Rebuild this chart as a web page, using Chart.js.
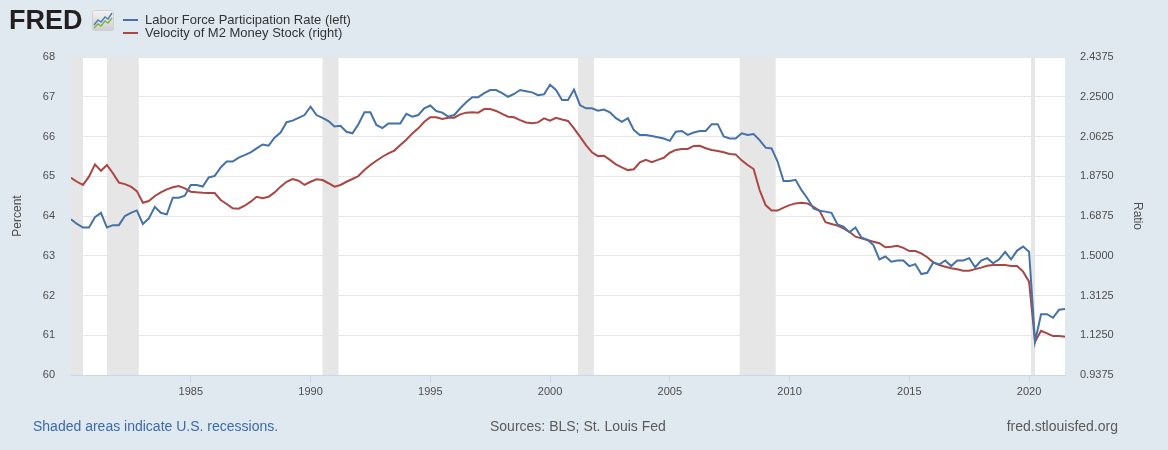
<!DOCTYPE html>
<html lang="en">
<head>
<meta charset="UTF-8">
<title>Labor Force Participation Rate and Velocity of M2</title>
<script src="https://cdn.jsdelivr.net/npm/chart.js"></script>
<style>
  body { margin: 0; background: #e1e9f0; font-family: Arial, "Liberation Sans", sans-serif; }
  .wrap { position: relative; width: 1168px; height: 450px; overflow: hidden; }
  canvas { position: absolute; left: 0; top: 0; }
  .logo { position: absolute; left: 9px; top: 7px; font-size: 27px; line-height: 27px; font-weight: bold; color: #231f20; }
  .logo-icon { position: absolute; left: 92px; top: 10px; }
  .legend { position: absolute; left: 123px; font-size: 13px; line-height: 13px; color: #333; white-space: nowrap; }
  .legend .swatch { position: absolute; left: 0; width: 15px; height: 2px; }
  .legend span.txt { position: absolute; left: 22px; top: 0; }
  .foot { position: absolute; top: 419px; font-size: 14px; line-height: 14px; color: #5a5a5a; white-space: nowrap; }
</style>
</head>
<body>
<div class="wrap">
  <canvas id="chart" width="1168" height="450"></canvas>

  <div class="logo">FRED</div>
  <svg class="logo-icon" width="22" height="21" viewBox="0 0 22 21">
    <defs>
      <linearGradient id="g" x1="0" y1="0" x2="0" y2="1">
        <stop offset="0" stop-color="#f2f2f2"/>
        <stop offset="1" stop-color="#cfcfcf"/>
      </linearGradient>
    </defs>
    <rect x="0.5" y="0.5" width="21" height="20" rx="2" fill="url(#g)" stroke="#d0d0d0"/>
    <polyline points="2,15 6,10 9,12 13,7 16,9 20,3" fill="none" stroke="#4a7fb5" stroke-width="1.4"/>
    <polyline points="2,18 6,14 9,16 13,11 16,13 20,8" fill="none" stroke="#7cb24b" stroke-width="1.4"/>
  </svg>

  <div class="legend" style="top:13px;">
    <div class="swatch" style="top:6px; background:#4572a7;"></div>
    <span class="txt">Labor Force Participation Rate (left)</span>
  </div>
  <div class="legend" style="top:26px;">
    <div class="swatch" style="top:6px; background:#aa4643;"></div>
    <span class="txt">Velocity of M2 Money Stock (right)</span>
  </div>

  <div class="foot" style="left:33px; color:#3a6aad;">Shaded areas indicate U.S. recessions.</div>
  <div class="foot" style="left:490px;">Sources: BLS; St. Louis Fed</div>
  <div class="foot" style="right:50px;">fred.stlouisfed.org</div>
</div>

<script>
    // quarterly observations, 1980 Q1 - 2021 Q3
    const startYear = 1980;

    const lfpr = [
        63.92, 63.80, 63.71, 63.71,  63.97, 64.08, 63.71, 63.77,  63.77, 64.00, 64.08, 64.14,
        63.80, 63.94, 64.23, 64.08,  64.04, 64.46, 64.46, 64.51,  64.78, 64.78, 64.74, 64.97,
        65.01, 65.22, 65.37, 65.37,  65.47, 65.53, 65.60, 65.70,  65.80, 65.77, 65.97, 66.10,
        66.36, 66.40, 66.47, 66.54,  66.75, 66.54, 66.47, 66.39,  66.25, 66.27, 66.12, 66.08,
        66.31, 66.61, 66.61, 66.29,  66.21, 66.33, 66.33, 66.33,  66.57, 66.50, 66.54, 66.71,
        66.78, 66.64, 66.60, 66.50,  66.54, 66.71, 66.86, 66.99,  66.99, 67.09, 67.17, 67.17,
        67.09, 67.00, 67.07, 67.17,  67.14, 67.11, 67.04, 67.06,  67.30, 67.17, 66.92, 66.92,
        67.18, 66.79, 66.71, 66.71,  66.65, 66.68, 66.61, 66.46,  66.37, 66.46, 66.16, 66.04,
        66.04, 66.01, 65.98, 65.95,  65.89, 66.12, 66.14, 66.04,  66.10, 66.14, 66.14, 66.31,
        66.31, 66.00, 65.95, 65.95,  66.08, 66.04, 66.06, 65.91,  65.72, 65.70, 65.37, 64.88,
        64.88, 64.91, 64.65, 64.44,  64.19, 64.13, 64.11, 64.08,  63.79, 63.73, 63.59, 63.71,
        63.46, 63.40, 63.27, 62.91,  62.98, 62.85, 62.88, 62.88,  62.74, 62.79, 62.54, 62.57,
        62.83, 62.78, 62.88, 62.74,  62.88, 62.88, 62.94, 62.71,  62.88, 62.94, 62.81, 62.91,
        63.10, 62.91, 63.13, 63.23,  63.10, 60.84, 61.53, 61.53,  61.44, 61.64, 61.66
    ];

    const velocity = [
        1.868, 1.849, 1.834, 1.873,  1.931, 1.901, 1.928, 1.889,  1.845, 1.838, 1.826, 1.805,
        1.750, 1.758, 1.782, 1.799,  1.813, 1.823, 1.829, 1.818,  1.802, 1.799, 1.797, 1.796,
        1.796, 1.763, 1.744, 1.724,  1.722, 1.736, 1.755, 1.778,  1.771, 1.778, 1.799, 1.826,
        1.849, 1.862, 1.854, 1.834,  1.849, 1.861, 1.857, 1.842,  1.826, 1.834, 1.849, 1.862,
        1.876, 1.904, 1.928, 1.948,  1.967, 1.983, 1.996, 2.022,  2.047, 2.077, 2.101, 2.132,
        2.153, 2.153, 2.145, 2.151,  2.151, 2.167, 2.175, 2.177,  2.175, 2.192, 2.192, 2.183,
        2.169, 2.156, 2.153, 2.140,  2.129, 2.125, 2.129, 2.148,  2.137, 2.151, 2.143, 2.136,
        2.101, 2.062, 2.022, 1.988,  1.970, 1.972, 1.952, 1.931,  1.917, 1.904, 1.908, 1.941,
        1.952, 1.941, 1.952, 1.962,  1.986, 1.999, 2.004, 2.004,  2.018, 2.019, 2.007, 1.999,
        1.994, 1.988, 1.980, 1.978,  1.950, 1.928, 1.909, 1.810,  1.739, 1.713, 1.713, 1.727,
        1.739, 1.747, 1.750, 1.747,  1.731, 1.713, 1.658, 1.650,  1.642, 1.629, 1.613, 1.590,
        1.582, 1.574, 1.566, 1.559,  1.540, 1.543, 1.547, 1.537,  1.522, 1.522, 1.511, 1.493,
        1.469, 1.456, 1.448, 1.441,  1.436, 1.429, 1.429, 1.437,  1.444, 1.453, 1.456, 1.456,
        1.456, 1.452, 1.452, 1.425,  1.378, 1.095, 1.146, 1.134,  1.121, 1.121, 1.118
    ];

    // recession periods as decimal years (start, end)
    const recessions = [
        [1980.00, 1980.50], [1981.50, 1982.83], [1990.50, 1991.17],
        [2001.17, 2001.83], [2007.92, 2009.42], [2020.08, 2020.25]
    ];

    const yearTicks = [1985, 1990, 1995, 2000, 2005, 2010, 2015, 2020];
    const percentTicks = [60, 61, 62, 63, 64, 65, 66, 67, 68];
    const ratioTicks = [0.9375, 1.125, 1.3125, 1.5, 1.6875, 1.875, 2.0625, 2.25, 2.4375];

    const quarters = lfpr.map((_, i) => startYear + i / 4);

    const plotBackground = {
        id: 'plotBackground',
        beforeDraw(chart) {
            const { ctx, chartArea: a } = chart;
            ctx.save();
            ctx.fillStyle = '#ffffff';
            ctx.fillRect(a.left, a.top, a.right - a.left, a.bottom - a.top);
            ctx.restore();
        }
    };

    const recessionBands = {
        id: 'recessionBands',
        beforeDatasetsDraw(chart) {
            const { ctx, chartArea: a, scales: { x } } = chart;
            ctx.save();
            ctx.fillStyle = '#e6e6e6';
            recessions.forEach(([s, e]) => {
                const x0 = Math.max(x.getPixelForValue(s), a.left);
                const x1 = Math.min(x.getPixelForValue(e), a.right);
                ctx.fillRect(x0, a.top, x1 - x0, a.bottom - a.top);
            });
            ctx.restore();
        }
    };

    const tickFont = { family: 'Arial, "Liberation Sans", sans-serif', size: 11 };
    const titleFont = { family: 'Arial, "Liberation Sans", sans-serif', size: 12 };

    new Chart(document.getElementById('chart').getContext('2d'), {
        type: 'line',
        data: {
            datasets: [
                {
                    label: 'Labor Force Participation Rate (left)',
                    data: quarters.map((q, i) => ({ x: q, y: lfpr[i] })),
                    borderColor: '#4572a7',
                    borderWidth: 2,
                    pointRadius: 0,
                    tension: 0,
                    yAxisID: 'y'
                },
                {
                    label: 'Velocity of M2 Money Stock (right)',
                    data: quarters.map((q, i) => ({ x: q, y: velocity[i] })),
                    borderColor: '#aa4643',
                    borderWidth: 2,
                    pointRadius: 0,
                    tension: 0,
                    yAxisID: 'y1'
                }
            ]
        },
        options: {
            responsive: false,
            animation: false,
            layout: { padding: { top: 57, left: 0, right: 0, bottom: 0 } },
            plugins: { legend: { display: false }, tooltip: { enabled: false } },
            scales: {
                x: {
                    type: 'linear',
                    min: startYear,
                    max: 2021.5,
                    afterBuildTicks: s => { s.ticks = yearTicks.map(v => ({ value: v })); },
                    afterFit: s => { s.height = 75; },
                    grid: { drawOnChartArea: false, drawTicks: true, tickLength: 8, color: '#ccd6eb' },
                    border: { color: '#ccd6eb', width: 1 },
                    ticks: { font: tickFont, color: '#4d4d4d', padding: 2, maxRotation: 0, callback: v => String(v) }
                },
                y: {
                    position: 'left',
                    min: 60,
                    max: 68,
                    afterBuildTicks: s => { s.ticks = percentTicks.map(v => ({ value: v })); },
                    afterFit: s => { s.width = 71; },
                    grid: { color: '#e6e6e6', drawTicks: false },
                    border: { display: false },
                    ticks: { font: tickFont, color: '#4d4d4d', padding: 16 },
                    title: { display: true, text: 'Percent', font: titleFont, color: '#4d4d4d', padding: { top: 10, bottom: 0 } }
                },
                y1: {
                    position: 'right',
                    min: 0.9375,
                    max: 2.4375,
                    afterBuildTicks: s => { s.ticks = ratioTicks.map(v => ({ value: v })); },
                    afterFit: s => { s.width = 103; },
                    grid: { drawOnChartArea: false, drawTicks: false },
                    border: { display: false },
                    ticks: { font: tickFont, color: '#4d4d4d', padding: 15, callback: v => Number(v).toFixed(4) },
                    title: { display: true, text: 'Ratio', font: titleFont, color: '#4d4d4d', padding: { top: 23, bottom: 0 } }
                }
            }
        },
        plugins: [plotBackground, recessionBands]
    });
</script>
</body>
</html>
